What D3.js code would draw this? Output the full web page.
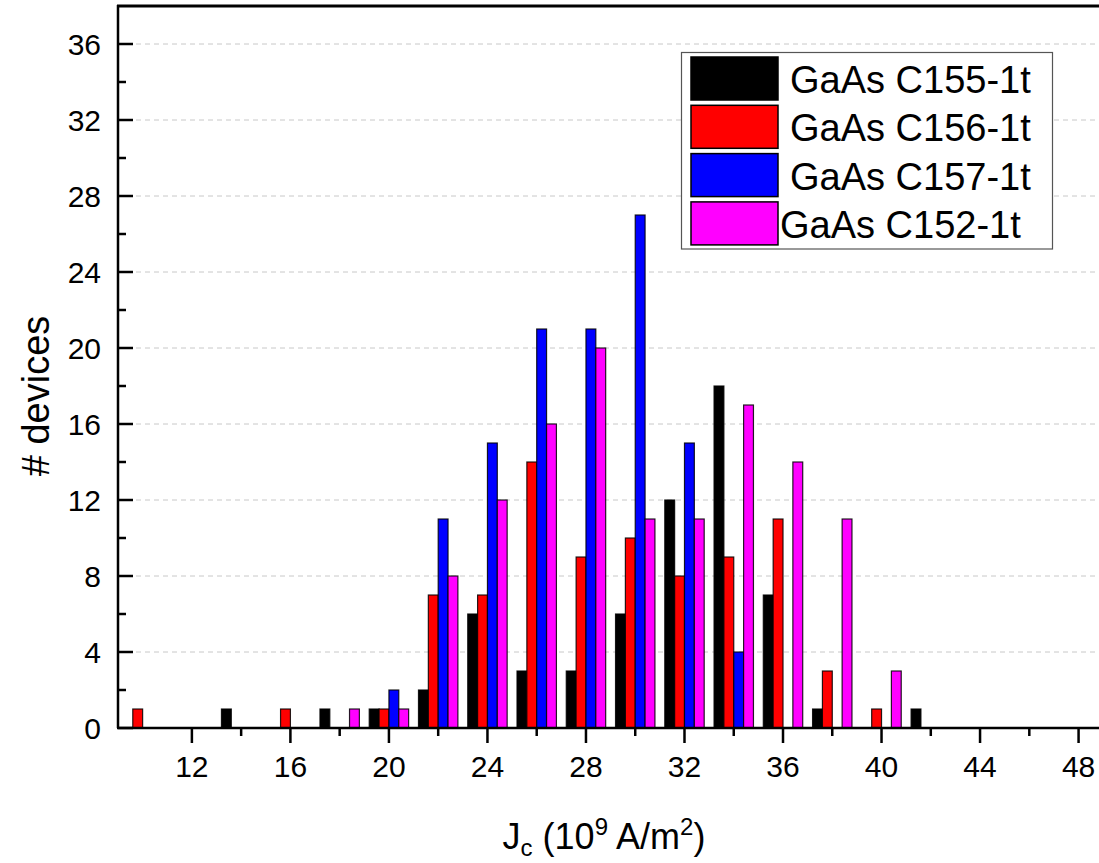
<!DOCTYPE html>
<html>
<head>
<meta charset="utf-8">
<script src="https://cdn.jsdelivr.net/npm/d3@7"></script>
<style>
    body { margin: 0; background: #fff; }
    text { font-family: "Liberation Sans", Arial, sans-serif; fill: #000; }
</style>
</head>
<body>
<svg id="chart" width="1099" height="863"></svg>
<script>
// histogram bin centres (J_c, 10^9 A/m^2)
const bins = [10, 12, 14, 16, 18, 20, 22, 24, 26, 28, 30, 32, 34, 36, 38, 40, 42];

// device counts per bin for each sample
const c155 = [0, 0, 1, 0, 1, 1, 2, 6, 3, 3, 6, 12, 18, 7, 1, 0, 1];
const c156 = [1, 0, 0, 1, 0, 1, 7, 7, 14, 9, 10, 8, 9, 11, 3, 1, 0];
const c157 = [0, 0, 0, 0, 0, 2, 11, 15, 21, 21, 27, 15, 4, 0, 0, 0, 0];
const c152 = [0, 0, 0, 0, 1, 1, 8, 12, 16, 20, 11, 11, 17, 14, 11, 3, 0];

const seriesNames = ["GaAs C155-1t", "GaAs C156-1t", "GaAs C157-1t", "GaAs C152-1t"];
const seriesColors = ["#000000", "#ff0000", "#0000ff", "#ff00ff"];

const xTicks = [12, 16, 20, 24, 28, 32, 36, 40, 44, 48];
const xMinor = [14, 18, 22, 26, 30, 34, 38, 42, 46];
const yTicks = [0, 4, 8, 12, 16, 20, 24, 28, 32, 36];
const yMinor = [2, 6, 10, 14, 18, 22, 26, 30, 34];

const svg = d3.select("#chart");
const width = 1099, height = 863;
const margin = { top: 6, left: 118, bottom: 135 };

const x = d3.scaleLinear().domain([9, 49]).range([margin.left, margin.left + 40 * 24.63]);
const y = d3.scaleLinear().domain([0, 38]).range([height - margin.bottom, margin.top]);

const barW = 0.4; // bar width in data units, 4 bars per 2-unit bin

// dashed horizontal grid
svg.append("g")
    .selectAll("line")
    .data(yTicks.filter(d => d > 0))
    .join("line")
    .attr("x1", margin.left)
    .attr("x2", width)
    .attr("y1", d => y(d))
    .attr("y2", d => y(d))
    .attr("stroke", "#c8c8c8")
    .attr("stroke-width", 1)
    .attr("stroke-dasharray", "5,4");

// bars
const series = [c155, c156, c157, c152];
series.forEach((vals, si) => {
    const data = bins.map((b, i) => ({ bin: b, v: vals[i] })).filter(d => d.v > 0);
    svg.append("g")
        .selectAll("rect")
        .data(data)
        .join("rect")
        .attr("x", d => x(d.bin - 0.8 + si * barW))
        .attr("width", x(barW) - x(0))
        .attr("y", d => y(d.v))
        .attr("height", d => y(0) - y(d.v))
        .attr("fill", seriesColors[si])
        .attr("stroke", "#000")
        .attr("stroke-opacity", 0.85)
        .attr("stroke-width", 1.2);
});

// y axis: ticks point inward
const yAxis = svg.append("g").attr("transform", `translate(${margin.left},0)`);
yAxis.append("line")
    .attr("x1", 0).attr("x2", 0)
    .attr("y1", margin.top - 1).attr("y2", y(0))
    .attr("stroke", "#000").attr("stroke-width", 2.5);
yAxis.selectAll(".major")
    .data(yTicks)
    .join("line")
    .attr("class", "major")
    .attr("x1", 0).attr("x2", 15)
    .attr("y1", d => y(d)).attr("y2", d => y(d))
    .attr("stroke", "#000").attr("stroke-width", 2.5);
yAxis.selectAll(".minor")
    .data(yMinor)
    .join("line")
    .attr("class", "minor")
    .attr("x1", 0).attr("x2", 8)
    .attr("y1", d => y(d)).attr("y2", d => y(d))
    .attr("stroke", "#000").attr("stroke-width", 2.5);
yAxis.selectAll("text")
    .data(yTicks)
    .join("text")
    .attr("x", -17)
    .attr("y", d => y(d))
    .attr("dy", "0.35em")
    .attr("text-anchor", "end")
    .style("font-size", "30px")
    .text(d => d);

// x axis: ticks point outward
const xAxis = svg.append("g").attr("transform", `translate(0,${y(0)})`);
xAxis.append("line")
    .attr("x1", margin.left - 1).attr("x2", width)
    .attr("y1", 0).attr("y2", 0)
    .attr("stroke", "#000").attr("stroke-width", 2.5);
xAxis.selectAll(".major")
    .data(xTicks)
    .join("line")
    .attr("class", "major")
    .attr("x1", d => x(d)).attr("x2", d => x(d))
    .attr("y1", 0).attr("y2", 15)
    .attr("stroke", "#000").attr("stroke-width", 2.5);
xAxis.selectAll(".minor")
    .data(xMinor)
    .join("line")
    .attr("class", "minor")
    .attr("x1", d => x(d)).attr("x2", d => x(d))
    .attr("y1", 0).attr("y2", 8)
    .attr("stroke", "#000").attr("stroke-width", 2.5);
xAxis.selectAll("text")
    .data(xTicks)
    .join("text")
    .attr("x", d => x(d))
    .attr("y", 49)
    .attr("text-anchor", "middle")
    .style("font-size", "30px")
    .text(d => d);

// top frame
svg.append("line")
    .attr("x1", margin.left - 1).attr("x2", width)
    .attr("y1", margin.top).attr("y2", margin.top)
    .attr("stroke", "#000").attr("stroke-width", 3);

// axis titles
svg.append("text")
    .attr("transform", `translate(49,${396}) rotate(-90)`)
    .attr("text-anchor", "middle")
    .style("font-size", "38px")
    .text("# devices");

const xt = svg.append("text")
    .attr("x", 604)
    .attr("y", 849)
    .attr("text-anchor", "middle")
    .style("font-size", "36px");
xt.append("tspan").text("J");
xt.append("tspan").attr("dy", 7).style("font-size", "24px").text("c");
xt.append("tspan").attr("dy", -7).text(" (10");
xt.append("tspan").attr("dy", -14).style("font-size", "24px").text("9");
xt.append("tspan").attr("dy", 14).text(" A/m");
xt.append("tspan").attr("dy", -14).style("font-size", "24px").text("2");
xt.append("tspan").attr("dy", 14).text(")");

// legend
const legend = svg.append("g");
legend.append("rect")
    .attr("x", 681.5).attr("y", 52.5)
    .attr("width", 371).attr("height", 196.5)
    .attr("fill", "#fff")
    .attr("stroke", "#555").attr("stroke-width", 1.2);
const rows = legend.selectAll(".row")
    .data(seriesNames)
    .join("g")
    .attr("class", "row")
    .attr("transform", (d, i) => `translate(691,${57 + i * 48.3})`);
rows.append("rect")
    .attr("width", 87).attr("height", 43)
    .attr("fill", (d, i) => seriesColors[i])
    .attr("stroke", "#000").attr("stroke-width", 1.5);
rows.append("text")
    .attr("x", (d, i) => i === 3 ? 89 : 99)
    .attr("y", 36)
    .style("font-size", "38px")
    .text(d => d);
</script>
</body>
</html>
